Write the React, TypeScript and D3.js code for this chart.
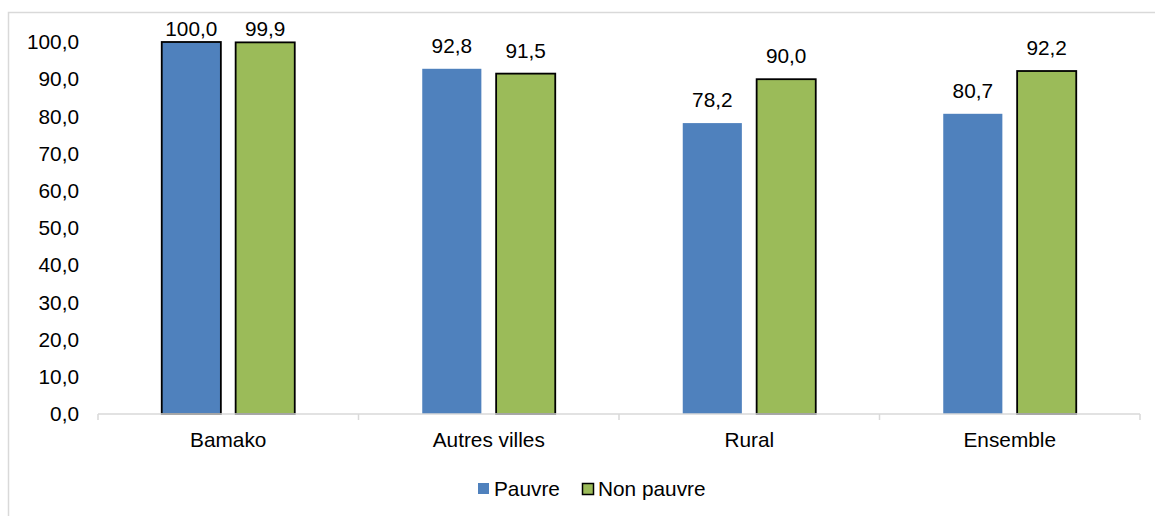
import * as d3 from 'd3';

const categories = ['Bamako', 'Autres villes', 'Rural', 'Ensemble'];
const pauvre = [100.0, 92.8, 78.2, 80.7];
const nonPauvre = [99.9, 91.5, 90.0, 92.2];
const seriesNames = ['Pauvre', 'Non pauvre'];
const yTicks = [0, 10, 20, 30, 40, 50, 60, 70, 80, 90, 100];

const W = 1155;
const H = 516;
const colors = ['#4f81bd', '#9bbb59'];
const font = 'Liberation Sans, Arial, sans-serif';
const fs = 20.8;
const fmt = (v: number) => v.toFixed(1).replace('.', ',');

export default function App() {
  const margin = { left: 98, right: 15, top: 42, bottom: 102 };
  const x = d3.scaleBand<string>().domain(categories).range([margin.left, W - margin.right]);
  const y = d3.scaleLinear().domain([0, 100]).range([H - margin.bottom, margin.top]);
  const inner = d3.scaleBand<number>().domain([0, 1]).range([0, 133]).paddingInner(0.2);
  const innerOffset = (x.bandwidth() - 133) / 2;
  const series = [pauvre, nonPauvre];

  return (
    <div style={{ position: 'absolute', left: 0, top: 0 }}>
      <svg width={W} height={H} style={{ display: 'block', background: '#fff' }} fontFamily={font}>
        <rect x={8.5} y={12.5} width={W} height={H} fill="none" stroke="#d9d9d9" strokeWidth={1.5} />
        {yTicks.map(t => (
          <text key={t} x={79} y={y(t)} dy="0.35em" textAnchor="end" fontSize={fs} fill="#000">
            {fmt(t)}
          </text>
        ))}
        {series.map((vals, s) =>
          vals.map((v, i) => {
            const bx = (x(categories[i]) as number) + innerOffset + (inner(s) as number);
            const top = y(v);
            const outlined = s === 1 || i === 0;
            return (
              <g key={`${s}-${i}`}>
                <rect
                  x={bx}
                  y={top}
                  width={inner.bandwidth()}
                  height={y(0) - top}
                  fill={colors[s]}
                  stroke={outlined ? '#000' : 'none'}
                  strokeWidth={1.8}
                />
                <text
                  x={bx + inner.bandwidth() / 2}
                  y={Math.max(top - 23, 29)}
                  dy="0.35em"
                  textAnchor="middle"
                  fontSize={fs}
                  fill="#000"
                >
                  {fmt(v)}
                </text>
              </g>
            );
          })
        )}
        <line x1={margin.left} x2={W - margin.right} y1={y(0)} y2={y(0)} stroke="#d9d9d9" strokeWidth={1.5} />
        {[...categories.map(c => x(c) as number), W - margin.right].map((tx, i) => (
          <line key={i} x1={tx} x2={tx} y1={y(0)} y2={y(0) + 6} stroke="#d9d9d9" strokeWidth={1.5} />
        ))}
        {categories.map(c => (
          <text key={c} x={(x(c) as number) + x.bandwidth() / 2} y={447} textAnchor="middle" fontSize={fs} fill="#000">
            {c}
          </text>
        ))}
        <g>
          <rect x={478} y={483} width={11} height={11} fill={colors[0]} />
          <text x={494} y={496} fontSize={fs} fill="#000">{seriesNames[0]}</text>
          <rect x={582.5} y={483.5} width={11} height={11} fill={colors[1]} stroke="#000" strokeWidth={1.5} />
          <text x={598} y={496} fontSize={fs} fill="#000">{seriesNames[1]}</text>
        </g>
      </svg>
    </div>
  );
}
